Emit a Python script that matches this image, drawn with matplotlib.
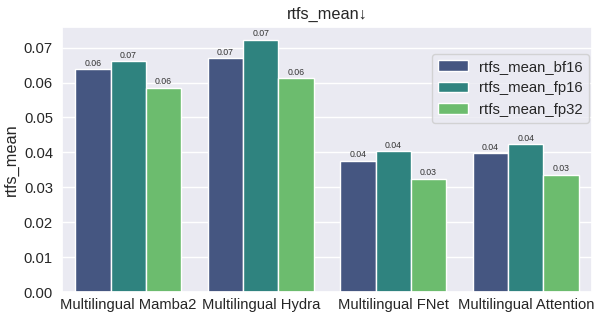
import matplotlib
matplotlib.use("Agg")
import matplotlib.pyplot as plt
from matplotlib.ticker import MultipleLocator
import numpy as np
import seaborn as sns

models = ["Multilingual Mamba2", "Multilingual Hydra", "Multilingual FNet", "Multilingual Attention"]
series = ["rtfs_mean_bf16", "rtfs_mean_fp16", "rtfs_mean_fp32"]
bf16 = [0.0638, 0.0670, 0.0376, 0.0397]
fp16 = [0.0662, 0.0723, 0.0404, 0.0424]
fp32 = [0.0585, 0.0613, 0.0325, 0.0336]

sns.set_theme(style="darkgrid")
plt.rcParams["font.family"] = ["Liberation Sans", "DejaVu Sans"]
# seaborn barplot desaturates its palette to 0.75
colors = [sns.desaturate(c, 0.75) for c in sns.color_palette("viridis", 3)]

fig = plt.figure(figsize=(5.95, 3.13), dpi=100)
ax = fig.add_axes([62 / 595, 21 / 313, 530 / 595, 265 / 313])
x = np.arange(len(models))
w = 0.8 / 3
for i, (name, vals) in enumerate(zip(series, [bf16, fp16, fp32])):
    bars = ax.bar(x + (i - 1) * w, vals, w, color=colors[i], label=name,
                  edgecolor="white", linewidth=1)
    ax.bar_label(bars, labels=[f"{v:.2f}" for v in vals], fontsize=6.3, padding=1, color="#333333")

ax.set_xticks(x)
ax.set_xticklabels(models)
ax.yaxis.set_major_locator(MultipleLocator(0.01))
ax.tick_params(axis="y", labelsize=10.6, length=0, pad=6.5)
ax.tick_params(axis="x", labelsize=10.6, length=0, pad=4)
ax.grid(axis="x", visible=False)
ax.set_xlim(-0.5, 3.5)
ax.set_ylabel("rtfs_mean", fontsize=11.7, labelpad=3.5)
ax.set_title("rtfs_mean↓", fontsize=11.7)
ax.legend(loc="upper right", bbox_to_anchor=(1.0, 0.91), fontsize=10.7, borderaxespad=0.2)
plt.savefig("out.png", dpi=100)
plt.close()
